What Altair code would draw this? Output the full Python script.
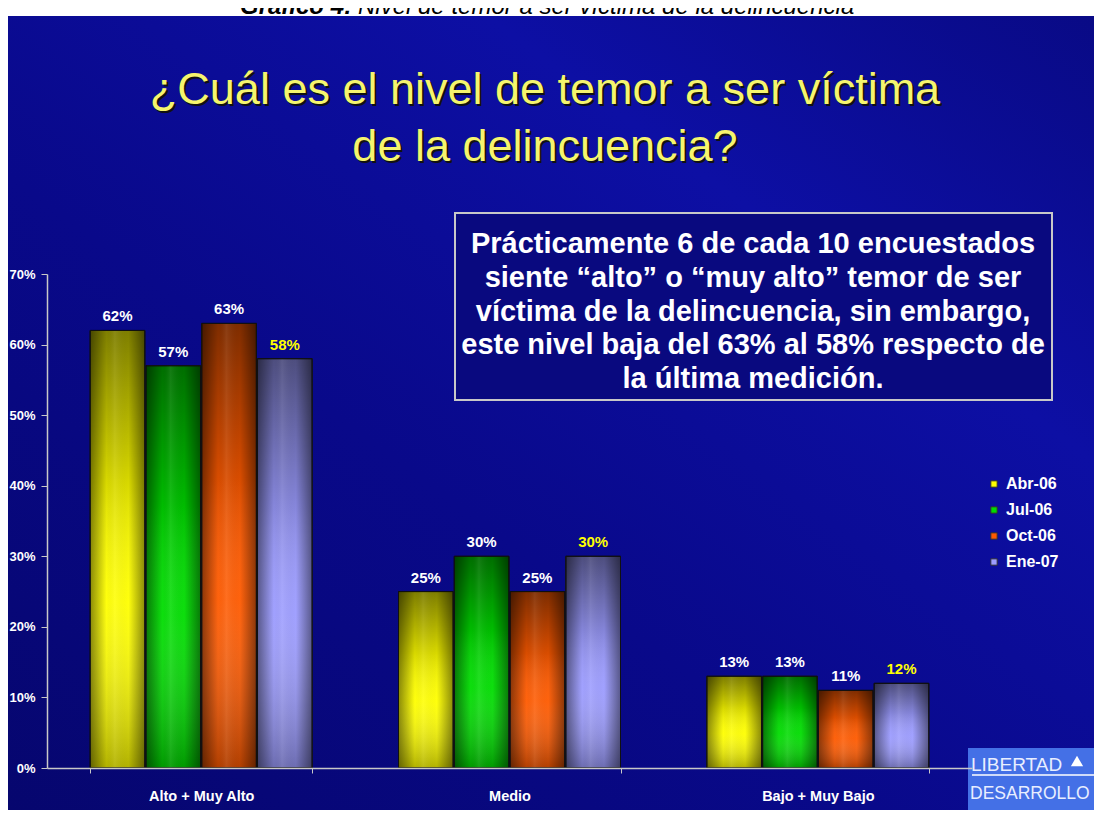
import altair as alt
import pandas as pd

# ---------------- data ----------------
categories = ["Alto + Muy Alto", "Medio", "Bajo + Muy Bajo"]
series = ["Abr-06", "Jul-06", "Oct-06", "Ene-07"]
abr06 = [62, 25, 13]
jul06 = [57, 30, 13]
oct06 = [63, 25, 11]
ene07 = [58, 30, 12]
series_colors = ["#ffff00", "#00dd00", "#ff5a00", "#9c9cff"]
y_ticks = [0, 10, 20, 30, 40, 50, 60, 70]

page_title_bold = "Gráfico 4:"
page_title_rest = "Nivel de temor a ser víctima de la delincuencia"
slide_title = ["¿Cuál es el nivel de temor a ser víctima", "de la delincuencia?"]
box_lines = [
    "Prácticamente 6 de cada 10 encuestados",
    "siente “alto” o “muy alto” temor de ser",
    "víctima de la delincuencia, sin embargo,",
    "este nivel baja del 63% al 58% respecto de",
    "la última medición.",
]

rows = []
for s, vals in zip(series, [abr06, jul06, oct06, ene07]):
    for c, v in zip(categories, vals):
        rows.append({"categoria": c, "serie": s, "valor": v, "etiqueta": f"{v}%"})
df = pd.DataFrame(rows)
one = pd.DataFrame({"k": [0]})

W, H = 925, 494
PL, PT, PR, PB = 39, 266, 122, 42
FONT = "Liberation Sans"

# ---------------- decoration ----------------
bg_grad = alt.LinearGradient(
    gradient="linear",
    stops=[
        alt.GradientStop(color="#06066e", offset=0),
        alt.GradientStop(color="#09098a", offset=0.4),
        alt.GradientStop(color="#0d0fa4", offset=0.72),
        alt.GradientStop(color="#090a86", offset=1),
    ],
    x1=0, y1=1, x2=1, y2=0,
)
background = alt.Chart(one).mark_rect(fill=bg_grad).encode(
    x=alt.value(-PL), x2=alt.value(W + PR), y=alt.value(-PT + 8), y2=alt.value(H + PB)
)

top_bold = alt.Chart(one).mark_text(
    text=page_title_bold, font=FONT, fontSize=24, fontWeight="bold", fontStyle="italic",
    align="right", baseline="alphabetic", color="black"
).encode(x=alt.value(305), y=alt.value(-PT + 6))
top_rest = alt.Chart(one).mark_text(
    text=page_title_rest, font=FONT, fontSize=24, fontStyle="italic",
    align="left", baseline="alphabetic", color="black"
).encode(x=alt.value(311), y=alt.value(-PT + 6))

title_layers = []
for i, line in enumerate(slide_title):
    yy = -170 + i * 57
    title_layers.append(alt.Chart(one).mark_text(
        text=line, font=FONT, fontSize=45, align="center", baseline="alphabetic", color="#111111"
    ).encode(x=alt.value(500), y=alt.value(yy + 2)))
    title_layers.append(alt.Chart(one).mark_text(
        text=line, font=FONT, fontSize=45, align="center", baseline="alphabetic", color="#f5f56e"
    ).encode(x=alt.value(498), y=alt.value(yy)))

box = alt.Chart(one).mark_rect(fill="#09097f", stroke="#c8c8c8", strokeWidth=2).encode(
    x=alt.value(408), x2=alt.value(1005), y=alt.value(-61), y2=alt.value(126)
)
box_text = [
    alt.Chart(one).mark_text(
        text=line, font=FONT, fontSize=29, fontWeight="bold", align="center",
        baseline="alphabetic", color="white"
    ).encode(x=alt.value(706), y=alt.value(-21 + i * 33.8))
    for i, line in enumerate(box_lines)
]

logo = alt.Chart(one).mark_rect(fill="#4470e6").encode(
    x=alt.value(921), x2=alt.value(1060), y=alt.value(474), y2=alt.value(540)
)
logo_line = alt.Chart(one).mark_rule(color="white", strokeWidth=1.5).encode(
    x=alt.value(925), x2=alt.value(1060), y=alt.value(501)
)
logo_t1 = alt.Chart(one).mark_text(
    text="LIBERTAD", font=FONT, fontSize=19, align="left", baseline="alphabetic", color="#e8eeff"
).encode(x=alt.value(924), y=alt.value(497))
logo_t2 = alt.Chart(one).mark_text(
    text="DESARROLLO", font=FONT, fontSize=17.5, align="left", baseline="alphabetic", color="#e8eeff"
).encode(x=alt.value(923), y=alt.value(525))
logo_tri = alt.Chart(one).mark_point(shape="triangle-up", filled=True, color="white", size=150, opacity=1).encode(
    x=alt.value(1030), y=alt.value(487)
)

# ---------------- bars ----------------
x_enc = alt.X(
    "categoria:N", sort=categories,
    scale=alt.Scale(paddingInner=0.28, paddingOuter=0.14),
    axis=alt.Axis(
        title=None, labelAngle=0, labelColor="white", labelFont=FONT, labelFontSize=14.5,
        labelFontWeight="bold", labelPadding=16, domainColor="#c8c8c8", domainWidth=1.5,
        ticks=True, tickBand="extent", tickColor="#c8c8c8", tickSize=5, zindex=1,
    ),
)
xo_enc = alt.XOffset("serie:N", sort=series, scale=alt.Scale(domain=series, paddingInner=0.02))
y_enc = alt.Y(
    "valor:Q", scale=alt.Scale(domain=[0, 70]),
    axis=alt.Axis(
        title=None, values=y_ticks, labelExpr="datum.value + '%'", grid=False,
        labelColor="white", labelFont=FONT, labelFontSize=13, labelFontWeight="bold",
        labelPadding=6, domainColor="#c8c8c8", domainWidth=1.5, tickColor="#c8c8c8",
        tickSize=6, zindex=1,
    ),
)

base = alt.Chart(df).encode(x=x_enc, xOffset=xo_enc, y=y_enc)

bars = base.mark_bar(stroke="#111111", strokeWidth=1).encode(
    color=alt.Color(
        "serie:N", sort=series, scale=alt.Scale(domain=series, range=series_colors),
        legend=alt.Legend(
            title=None, orient="none", legendX=939, legendY=202, symbolType="square",
            symbolSize=40, symbolStrokeColor="#333333", symbolStrokeWidth=1,
            labelColor="white", labelFont=FONT, labelFontSize=16, labelFontWeight="bold",
            labelOffset=4, rowPadding=10, padding=0, zindex=1,
        ),
    )
)

vshade = alt.LinearGradient(
    gradient="linear",
    stops=[
        alt.GradientStop(color="rgba(0,0,0,0.5)", offset=0),
        alt.GradientStop(color="rgba(0,0,0,0.15)", offset=0.35),
        alt.GradientStop(color="rgba(255,255,255,0.05)", offset=0.62),
        alt.GradientStop(color="rgba(0,0,0,0.3)", offset=1),
    ],
    x1=0, y1=0, x2=0, y2=1,
)
hshade = alt.LinearGradient(
    gradient="linear",
    stops=[
        alt.GradientStop(color="rgba(0,0,0,0.45)", offset=0),
        alt.GradientStop(color="rgba(0,0,0,0.0)", offset=0.3),
        alt.GradientStop(color="rgba(255,255,255,0.08)", offset=0.45),
        alt.GradientStop(color="rgba(0,0,0,0.0)", offset=0.7),
        alt.GradientStop(color="rgba(0,0,0,0.45)", offset=1),
    ],
    x1=0, y1=0, x2=1, y2=0,
)
shade_v = base.mark_bar(fill=vshade, strokeWidth=0)
shade_h = base.mark_bar(fill=hshade, strokeWidth=0)
outline = base.mark_bar(fillOpacity=0, stroke="#111111", strokeWidth=1)

labels = base.mark_text(
    dy=-9, font=FONT, fontSize=15, fontWeight="bold", baseline="alphabetic", align="center"
).encode(
    text="etiqueta:N",
    color=alt.condition(alt.datum.serie == "Ene-07", alt.value("#ffff00"), alt.value("white")),
)

chart = alt.layer(
    background, top_bold, top_rest, *title_layers, box, *box_text,
    bars, shade_v, shade_h, outline, labels,
    logo, logo_line, logo_t1, logo_t2, logo_tri,
).properties(
    width=W, height=H,
    autosize=alt.AutoSizeParams(type="none"),
    padding={"left": PL, "top": PT, "right": PR, "bottom": PB},
    background="white",
).configure_view(stroke=None).resolve_scale(color="independent")

chart.save("out.html", embed_options={"renderer": "svg", "actions": False})
